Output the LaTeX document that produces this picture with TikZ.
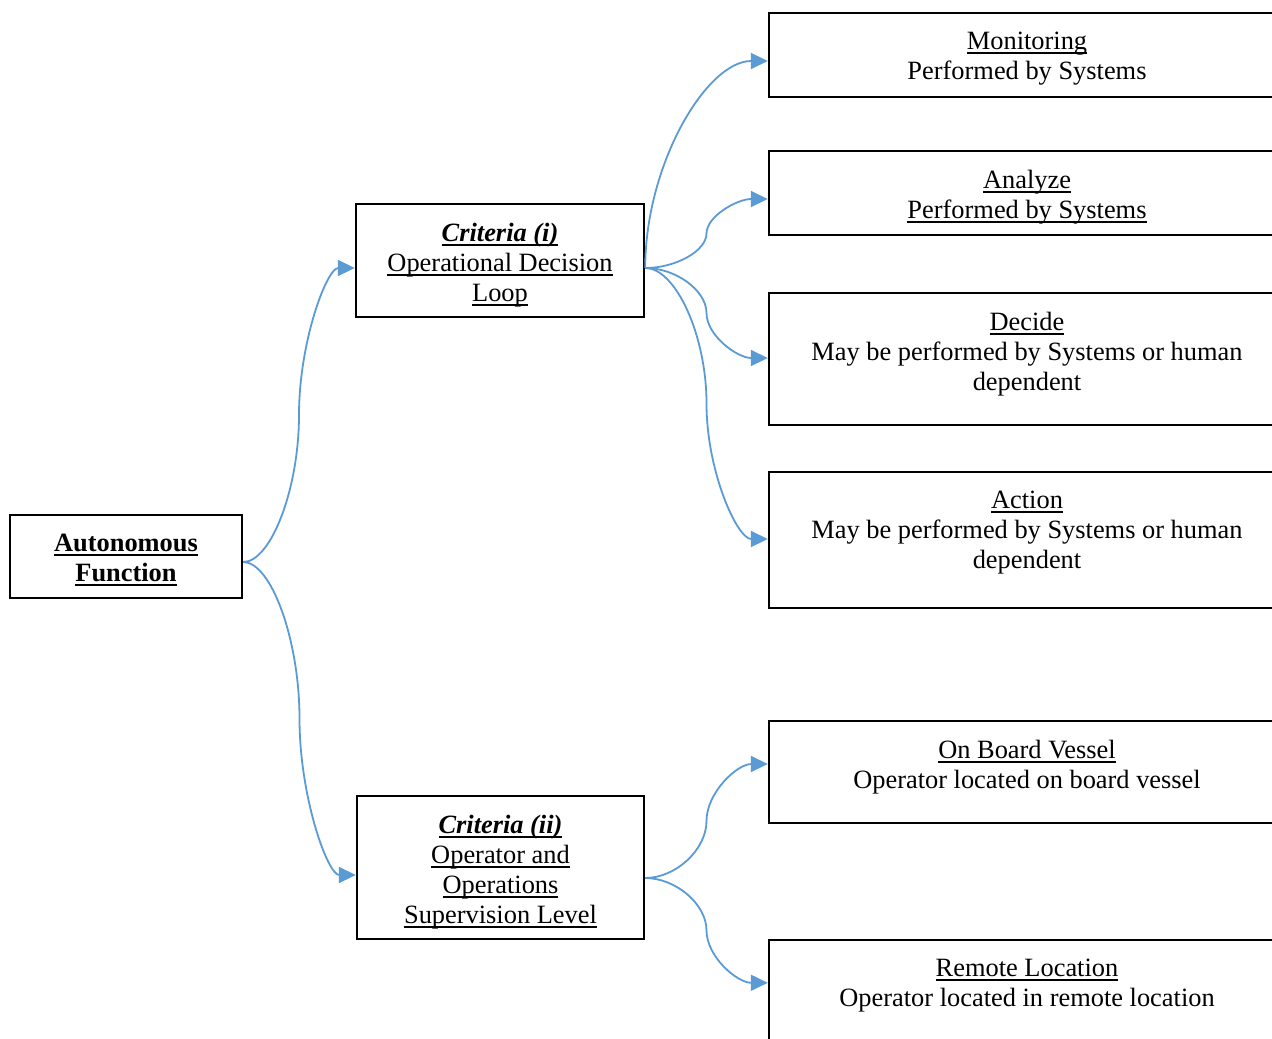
\documentclass[tikz,border=0pt]{standalone}
\usepackage{fontspec}
\setmainfont{Liberation Serif}
\usetikzlibrary{fit,calc,arrows.meta}
\definecolor{conncol}{HTML}{5B9BD5}
\newcommand\ulx[1]{\setbox0\hbox{#1}\rlap{\rule[-2.2pt]{\wd0}{0.6pt}}\box0}
% S-shaped curved connector (Word curvedConnector3 geometry)
\newcommand\cconn[3]{%
 \draw[conn] let \p1=(#1), \p2=(#2), \p3=($(\p1)!#3!(\p2)$) in
 (\p1) .. controls ({(\x1+\x3)/2},\y1) and (\x3,{\y1+(\y2-\y1)/4}) .. (\x3,{(\y1+\y2)/2})
 .. controls (\x3,{\y1+3*(\y2-\y1)/4}) and ({(\x3+\x2)/2},\y2) .. (\p2);}
% quarter-bend connector (vertical start, horizontal end)
\newcommand\qconn[2]{%
 \draw[conn] let \p1=(#1), \p2=(#2) in
 (\p1) .. controls (\x1,{(\y1+\y2)/2}) and ({(\x1+\x2)/2},\y2) .. (\p2);}
\tikzset{
  x=0.5pt, y=-0.5pt,
  box/.style={draw=black, line width=1.2pt, inner sep=0pt},
  txt/.style={anchor=north, inner sep=0pt, align=center,
    font=\fontsize{13.2}{15}\selectfont, execute at begin node=\strut},
  conn/.style={draw=conncol, line width=0.9pt, -{Triangle[length=8.5pt,width=8pt]}},
}
\begin{document}
\begin{tikzpicture}
\useasboundingbox (0,0) rectangle (1272,1038);
\clip (0,0) rectangle (1272,1038);
\fill[white] (0,0) rectangle (1272,1038);
% boxes
\node[box, fit={(10,515) (242,598)}] (auto) {};
\node[box, fit={(356,204) (644,317)}] (c1) {};
\node[box, fit={(357,796) (644,939)}] (c2) {};
\node[box, fit={(769,13) (1285,97)}] (mon) {};
\node[box, fit={(769,151) (1285,235)}] (ana) {};
\node[box, fit={(769,293) (1285,425)}] (dec) {};
\node[box, fit={(769,472) (1285,608)}] (act) {};
\node[box, fit={(769,721) (1285,823)}] (onb) {};
\node[box, fit={(769,940) (1285,1070)}] (rem) {};
% texts
\node[txt] (auto-t) at ([yshift=-9.8pt]auto.north) {\ulx{\bfseries Autonomous}\\\ulx{\bfseries Function}};
\node[txt] (c1-t) at ([yshift=-9.8pt]c1.north) {\ulx{\bfseries\itshape Criteria (i)}\\\ulx{Operational Decision}\\\ulx{Loop}};
\node[txt] (c2-t) at ([yshift=-9.8pt]c2.north) {\ulx{\bfseries\itshape Criteria (ii)}\\\ulx{Operator and}\\\ulx{Operations}\\\ulx{Supervision Level}};
\node[txt] (mon-t) at ([yshift=-9.8pt]mon.north) {\ulx{Monitoring}\\Performed by Systems};
\node[txt] (ana-t) at ([yshift=-9.8pt]ana.north) {\ulx{Analyze}\\\ulx{Performed by Systems}};
\node[txt] (dec-t) at ([yshift=-9.8pt]dec.north) {\ulx{Decide}\\May be performed by Systems or human\\dependent};
\node[txt] (act-t) at ([yshift=-9.8pt]act.north) {\ulx{Action}\\May be performed by Systems or human\\dependent};
\node[txt] (onb-t) at ([yshift=-9.8pt]onb.north) {\ulx{On Board Vessel}\\Operator located on board vessel};
\node[txt] (rem-t) at ([yshift=-9.8pt]rem.north) {\ulx{Remote Location}\\Operator located in remote location};
% connectors
\cconn{[yshift=-2.75pt]auto.east}{[yshift=-3.75pt]c1.west}{0.5}
\cconn{[yshift=-2.75pt]auto.east}{[yshift=-3.75pt]c2.west}{0.5}
\qconn{[yshift=-3.75pt]c1.east}{[yshift=-3pt]mon.west}
\cconn{[yshift=-3.75pt]c1.east}{[yshift=-3pt]ana.west}{0.5}
\cconn{[yshift=-3.75pt]c1.east}{[yshift=0.5pt]dec.west}{0.5}
\cconn{[yshift=-3.75pt]c1.east}{[yshift=0.5pt]act.west}{0.5}
\cconn{[yshift=-5.25pt]c2.east}{[yshift=4pt]onb.west}{0.5}
\cconn{[yshift=-5.25pt]c2.east}{[yshift=-22pt]rem.north west}{0.5}
\end{tikzpicture}
\end{document}
